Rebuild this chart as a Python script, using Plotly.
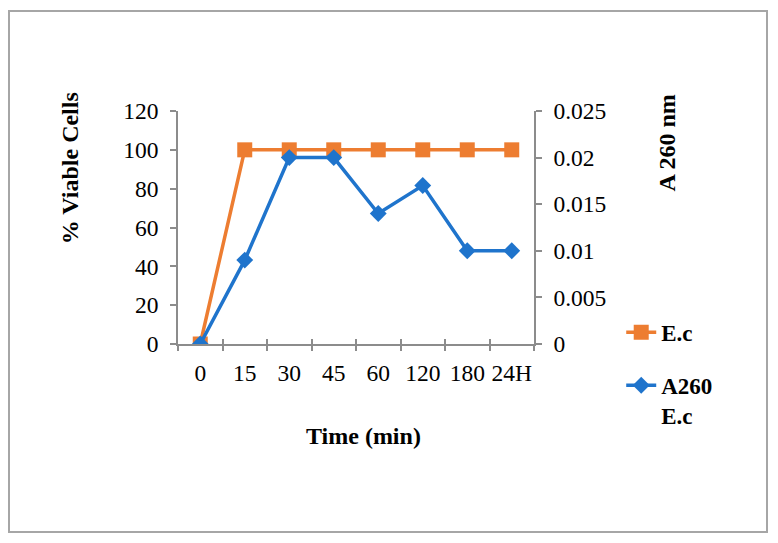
import plotly.graph_objects as go

categories = ["0", "15", "30", "45", "60", "120", "180", "24H"]
viable_cells = [0, 100, 100, 100, 100, 100, 100, 100]
a260_ec = [0, 0.009, 0.020, 0.020, 0.014, 0.017, 0.010, 0.010]
left_ticks = [0, 20, 40, 60, 80, 100, 120]
right_ticks = [0, 0.005, 0.01, 0.015, 0.02, 0.025]

ORANGE = "#ED7D31"
BLUE = "#1F74CC"
AXIS = "#8C8C8C"
FONT = "Liberation Serif, Times New Roman, serif"

fig = go.Figure()
fig.add_trace(go.Scatter(
    x=categories, y=viable_cells, name="<b>E.c</b>", mode="lines+markers",
    line=dict(color=ORANGE, width=3.5), marker=dict(symbol="square", size=15, color=ORANGE),
    xaxis="x", yaxis="y", legendgroup="a",
))
fig.add_trace(go.Scatter(
    x=categories, y=a260_ec, name="<b>A260<br>E.c</b>", mode="lines+markers",
    line=dict(color=BLUE, width=3.5), marker=dict(symbol="diamond", size=13, color=BLUE),
    xaxis="x2", yaxis="y2", legendgroup="b",
))

tickfont = dict(family=FONT, size=23.5, color="black")
fig.update_layout(
    width=778, height=543,
    margin=dict(l=178, r=244, t=111, b=199),
    paper_bgcolor="white", plot_bgcolor="white",
    showlegend=True,
    legend=dict(x=1.245, y=0.142, xanchor="left", yanchor="top",
                font=dict(family=FONT, size=23, color="black"),
                traceorder="grouped", tracegroupgap=20, valign="top",
                bgcolor="rgba(0,0,0,0)"),
    xaxis=dict(type="category", categoryarray=categories, range=[-0.5, 7.5],
               showgrid=False, zeroline=False, showline=True, linecolor=AXIS, linewidth=1.5,
               ticks="outside", ticklen=5, tickcolor=AXIS, tickwidth=1.5, tickson="boundaries",
               tickfont=tickfont, ticklabelstandoff=7, tickangle=0),
    xaxis2=dict(type="category", categoryarray=categories, range=[-0.5, 7.5], overlaying="x",
                showgrid=False, zeroline=False, showline=False,
                ticks="inside", ticklen=5, tickcolor=AXIS, tickwidth=1.5, tickson="boundaries",
                showticklabels=False),
    yaxis=dict(range=[0, 120], tickvals=left_ticks, showgrid=False, zeroline=False,
               showline=True, linecolor=AXIS, linewidth=1.5,
               ticks="outside", ticklen=6, tickcolor=AXIS, tickwidth=1.5,
               tickfont=tickfont, ticklabelstandoff=7),
    yaxis2=dict(range=[0, 0.025], tickvals=right_ticks, ticktext=[str(v) if v else "0" for v in right_ticks],
                overlaying="y", side="right", showgrid=False, zeroline=False,
                showline=True, linecolor=AXIS, linewidth=1.5,
                ticks="outside", ticklen=6, tickcolor=AXIS, tickwidth=1.5,
                tickfont=tickfont, ticklabelstandoff=7),
)

titlefont = dict(family=FONT, size=24, color="black")
fig.add_annotation(text="<b>% Viable Cells</b>", xref="paper", yref="paper", x=-0.303, y=0.755,
                   xanchor="center", yanchor="middle",
                   showarrow=False, textangle=-90, font=titlefont)
fig.add_annotation(text="<b>A 260 nm</b>", xref="paper", yref="paper", x=1.374, y=0.861,
                   xanchor="center", yanchor="middle",
                   showarrow=False, textangle=-90, font=titlefont)
fig.add_annotation(text="<b>Time (min)</b>", xref="paper", yref="paper", x=0.522, y=-0.395,
                   xanchor="center", yanchor="middle",
                   showarrow=False, font=titlefont)

fig.add_shape(type="rect", xref="paper", yref="paper",
              x0=(9 - 178) / 356, x1=(767 - 178) / 356,
              y0=(344 - 532) / 233, y1=(344 - 11) / 233,
              line=dict(color="#A6A6A6", width=2), fillcolor="rgba(0,0,0,0)", layer="below")

fig.write_html("out.html", config={"displayModeBar": False},
               post_script="document.body.style.margin='0px';")
